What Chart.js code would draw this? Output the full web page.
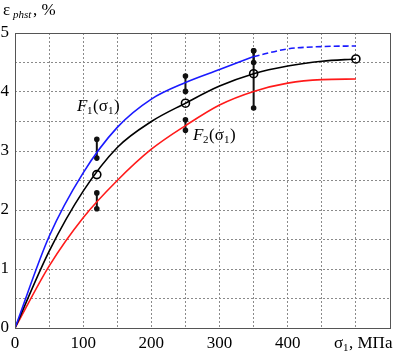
<!DOCTYPE html>
<html>
<head>
<meta charset="utf-8">
<script src="https://cdn.jsdelivr.net/npm/chart.js@4/dist/chart.umd.min.js"></script>
<style>
  html, body { margin: 0; padding: 0; background: #fff; }
  #wrap { width: 405px; height: 353px; }
</style>
</head>
<body>
<div id="wrap"><canvas id="grafico" width="405" height="353"></canvas></div>
<script>
// sigma_1, MPa
const sigma = [0, 50, 100, 150, 200, 250, 300, 350, 400, 450, 500];
// F1 (blue), mean (black), F2 (red), eps_phst %
const f1 = [0, 1.55, 2.63, 3.4, 3.88, 4.16, 4.38, 4.6, 4.73, 4.77, 4.78];
const srednee = [0, 1.3, 2.32, 3.06, 3.5, 3.81, 4.1, 4.31, 4.44, 4.52, 4.56];
const f2 = [0, 1.05, 1.87, 2.5, 3.03, 3.43, 3.78, 4.01, 4.15, 4.21, 4.22];

// experimental points (circles) and scatter bars
const pontosX = [120, 250, 350, 500];
const pontosY = [2.6, 3.81, 4.31, 4.56];
const barrasX = [120, 120, 250, 250, 350, 350];
const barrasMin = [2.88, 2.02, 4.01, 3.35, 4.5, 3.73];
const barrasMax = [3.2, 2.29, 4.27, 3.53, 4.7, 4.7];

const xTicks = [0, 100, 200, 300, 400];
const yTicks = [0, 1, 2, 3, 4, 5];

const serif = '"Liberation Serif", "DejaVu Serif", serif';
const par = (xs, ys) => xs.map((x, i) => ({ x: x, y: ys[i] }));

const azul = '#1a1aff';
const vermelho = '#ff1a1a';

const datasets = [
    { data: par(sigma.slice(0, 8), f1.slice(0, 8)), borderColor: azul, borderWidth: 1.6, pointRadius: 0, cubicInterpolationMode: 'monotone' },
    { data: par(sigma.slice(7), f1.slice(7)), borderColor: azul, borderWidth: 1.6, borderDash: [6, 3], pointRadius: 0, cubicInterpolationMode: 'monotone' },
    { data: par(sigma, srednee), borderColor: '#000', borderWidth: 1.6, pointRadius: 0, cubicInterpolationMode: 'monotone' },
    { data: par(sigma, f2), borderColor: vermelho, borderWidth: 1.6, pointRadius: 0, cubicInterpolationMode: 'monotone' },
    { data: par(pontosX, pontosY), showLine: false, pointRadius: 4, pointBorderWidth: 1.6, pointBorderColor: '#000', pointBackgroundColor: 'rgba(0,0,0,0)' }
];
barrasX.forEach((x, i) => {
    datasets.push({
        data: [{ x: x, y: barrasMin[i] }, { x: x, y: barrasMax[i] }],
        borderColor: '#111', borderWidth: 2, pointRadius: 1.8,
        pointBackgroundColor: '#111', pointBorderColor: '#111'
    });
});

const moldura = {
    id: 'moldura',
    afterDraw(chart) {
        const { ctx, chartArea: a } = chart;
        ctx.save();
        ctx.strokeStyle = '#555';
        ctx.lineWidth = 1;
        ctx.strokeRect(a.left + 0.5, a.top + 0.5, a.right - a.left, a.bottom - a.top);

        ctx.fillStyle = '#000';
        ctx.textBaseline = 'alphabetic';
        // y axis title: eps_phst, %
        ctx.font = '17px ' + serif;
        ctx.fillText('ε', 3, 15);
        ctx.font = 'italic 11px ' + serif;
        ctx.fillText('phst', 13, 18);
        ctx.font = '17px ' + serif;
        ctx.fillText(', %', 33, 15);

        // x axis title: sigma_1, MPa
        ctx.font = '17px ' + serif;
        ctx.fillText('σ', 334, 348);
        ctx.font = '11px ' + serif;
        ctx.fillText('1', 343, 351);
        ctx.font = '17px ' + serif;
        ctx.fillText(', МПа', 349, 348);

        // curve labels
        const rotulo = (nome, x, y) => {
            ctx.font = 'italic 17px ' + serif;
            ctx.fillText('F', x, y);
            ctx.font = '11px ' + serif;
            ctx.fillText(nome, x + 10, y + 3);
            ctx.font = '17px ' + serif;
            ctx.fillText('(σ', x + 16, y);
            ctx.font = '11px ' + serif;
            ctx.fillText('1', x + 31, y + 3);
            ctx.font = '17px ' + serif;
            ctx.fillText(')', x + 37, y);
        };
        rotulo('1', 77, 111);
        rotulo('2', 193, 140);
        ctx.restore();
    }
};

new Chart(document.getElementById('grafico'), {
    type: 'line',
    data: { datasets: datasets },
    options: {
        responsive: false,
        animation: false,
        layout: { padding: { top: 33, right: 15, left: 0, bottom: 0 } },
        plugins: { legend: { display: false }, tooltip: { enabled: false } },
        scales: {
            x: {
                type: 'linear', min: 0, max: 550,
                afterFit: s => { s.height = 25; },
                border: { display: false, dash: [2, 2] },
                grid: { color: '#8a8a8a', drawTicks: false },
                ticks: {
                    stepSize: 50, padding: 5, color: '#000',
                    font: { family: serif, size: 17 },
                    callback: v => xTicks.includes(v) ? String(v) : ''
                }
            },
            y: {
                type: 'linear', min: 0, max: 5,
                afterFit: s => { s.width = 15; },
                border: { display: false, dash: [2, 2] },
                grid: { color: '#8a8a8a', drawTicks: false },
                ticks: {
                    stepSize: 0.5, padding: 6, color: '#000',
                    font: { family: serif, size: 17 },
                    callback: v => yTicks.includes(v) ? String(v) : ''
                }
            }
        }
    },
    plugins: [moldura]
});
</script>
</body>
</html>
